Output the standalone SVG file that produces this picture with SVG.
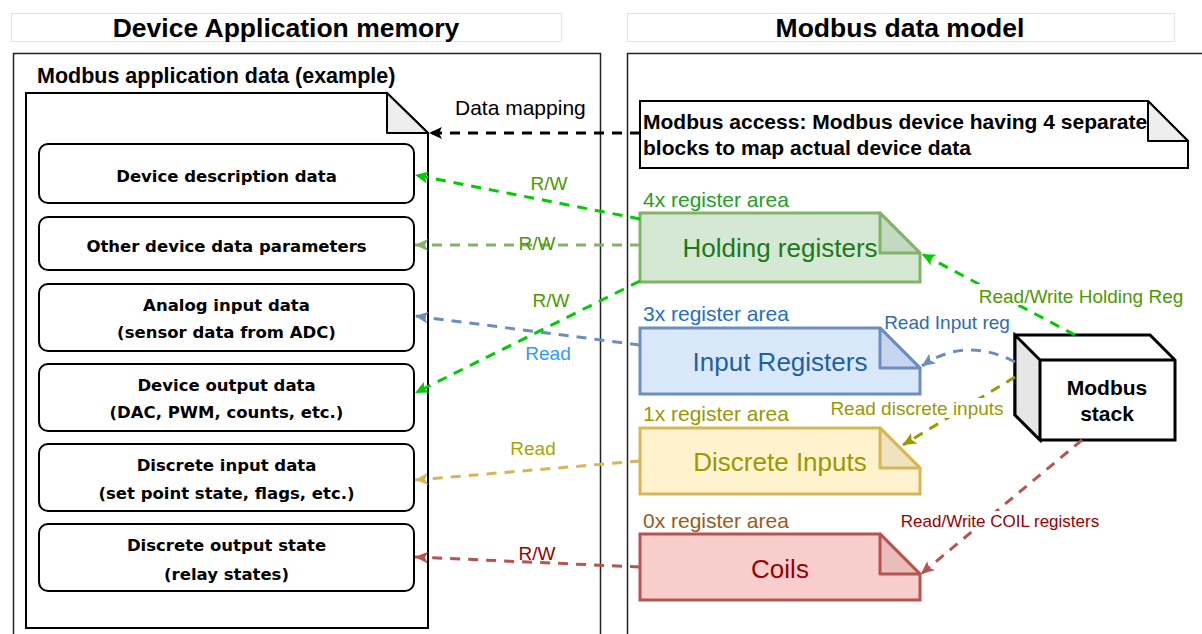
<svg xmlns="http://www.w3.org/2000/svg" width="1202" height="634" viewBox="0 0 1202 634">
<style>
text{font-family:"Liberation Sans",Arial,sans-serif}
.hdr{font-size:26.5px;font-weight:bold;text-anchor:middle;fill:#000}
.box{fill:#fff;stroke:#000;stroke-width:2}
.bt{font-family:"DejaVu Sans",Verdana,sans-serif;font-size:16.5px;font-weight:bold;text-anchor:middle;fill:#000}
.conn{fill:none;stroke-width:3;stroke-dasharray:10 8}
.lbl{font-size:19px;text-anchor:middle}
.area{font-size:21px}
.reg{font-size:26px;text-anchor:middle}
.note{font-size:21px;font-weight:bold}
</style>
<defs>
<marker id="aBlack" markerUnits="userSpaceOnUse" markerWidth="14" markerHeight="12" refX="13" refY="6" orient="auto"><path d="M0,0 L13,6 L0,12 L3,6 Z" fill="#000"/></marker>
<marker id="aGreen" markerUnits="userSpaceOnUse" markerWidth="14" markerHeight="12" refX="13" refY="6" orient="auto"><path d="M0,0 L13,6 L0,12 L3,6 Z" fill="#00cc00"/></marker>
<marker id="aLGreen" markerUnits="userSpaceOnUse" markerWidth="14" markerHeight="12" refX="13" refY="6" orient="auto"><path d="M0,0 L13,6 L0,12 L3,6 Z" fill="#82b366"/></marker>
<marker id="aBlue" markerUnits="userSpaceOnUse" markerWidth="14" markerHeight="12" refX="13" refY="6" orient="auto"><path d="M0,0 L13,6 L0,12 L3,6 Z" fill="#6c8ebf"/></marker>
<marker id="aYellow" markerUnits="userSpaceOnUse" markerWidth="14" markerHeight="12" refX="13" refY="6" orient="auto"><path d="M0,0 L13,6 L0,12 L3,6 Z" fill="#d6b656"/></marker>
<marker id="aOlive" markerUnits="userSpaceOnUse" markerWidth="14" markerHeight="12" refX="13" refY="6" orient="auto"><path d="M0,0 L13,6 L0,12 L3,6 Z" fill="#999900"/></marker>
<marker id="aRed" markerUnits="userSpaceOnUse" markerWidth="14" markerHeight="12" refX="13" refY="6" orient="auto"><path d="M0,0 L13,6 L0,12 L3,6 Z" fill="#b85450"/></marker>
</defs>
<rect width="1202" height="634" fill="#fff"/>

<g id="title-left">
<rect x="11.5" y="13.5" width="550" height="28" fill="#fff" stroke="#e3e3e3"/>
<text class="hdr" x="286" y="37">Device Application memory</text>
</g>
<g id="title-right">
<rect x="627.5" y="13.5" width="547" height="28" fill="#fff" stroke="#e3e3e3"/>
<text class="hdr" x="900" y="37">Modbus data model</text>
</g>

<g id="container-left">
<path d="M13.5,640 V53.5 H600.5 V640" fill="none" stroke="#222" stroke-width="1.5"/>
</g>
<g id="container-right">
<path d="M627.5,640 V53.5 H1205" fill="none" stroke="#222" stroke-width="1.5"/>
</g>

<g id="app-data">
<text x="37" y="83" style="font-size:21.5px;font-weight:bold">Modbus application data (example)</text>
<path d="M26,93 H387 L428,133 V628 H26 Z" fill="#fff" stroke="#000" stroke-width="2"/>
<path d="M387,93 V133 H428 Z" fill="#eeeeee" stroke="#000" stroke-width="2" stroke-linejoin="round"/>
</g>

<g id="box-desc">
<rect class="box" x="39" y="144" width="375" height="59" rx="9"/>
<text class="bt" x="226.5" y="182">Device description data</text>
</g>
<g id="box-other">
<rect class="box" x="39" y="217" width="375" height="53" rx="9"/>
<text class="bt" x="226.5" y="252">Other device data parameters</text>
</g>
<g id="box-analog">
<rect class="box" x="39" y="284" width="375" height="67" rx="9"/>
<text class="bt" x="226.5" y="311">Analog input data</text>
<text class="bt" x="226.5" y="338">(sensor data from ADC)</text>
</g>
<g id="box-output">
<rect class="box" x="39" y="364" width="375" height="67" rx="9"/>
<text class="bt" x="226.5" y="391">Device output data</text>
<text class="bt" x="226.5" y="418">(DAC, PWM, counts, etc.)</text>
</g>
<g id="box-discrete-in">
<rect class="box" x="39" y="444" width="375" height="67" rx="9"/>
<text class="bt" x="226.5" y="471">Discrete input data</text>
<text class="bt" x="226.5" y="499">(set point state, flags, etc.)</text>
</g>
<g id="box-discrete-out">
<rect class="box" x="39" y="524" width="375" height="67" rx="9"/>
<text class="bt" x="226.5" y="551">Discrete output state</text>
<text class="bt" x="226.5" y="580">(relay states)</text>
</g>

<g id="note-access">
<path d="M640,101 H1148 L1188,141 V168 H640 Z" fill="#fff" stroke="#000" stroke-width="2"/>
<path d="M1148,101 V141 H1188 Z" fill="#eeeeee" stroke="#000" stroke-width="2" stroke-linejoin="round"/>
<text class="note" x="643" y="129">Modbus access: Modbus device having 4 separate</text>
<text class="note" x="643" y="155">blocks to map actual device data</text>
</g>

<g id="holding">
<text class="area" x="643" y="207" fill="#22a022">4x register area</text>
<path d="M640,213 H880 L920,253 V282 H640 Z" fill="#d5e8d4" stroke="#82b366" stroke-width="3"/>
<path d="M880,213 V253 H920 Z" fill="#c3d9c1" stroke="#82b366" stroke-width="3" stroke-linejoin="round"/>
<text class="reg" x="780" y="257" fill="#1a7a1a">Holding registers</text>
</g>
<g id="input">
<text class="area" x="643" y="321" fill="#1f6fc5">3x register area</text>
<path d="M640,328 H880 L920,368 V394 H640 Z" fill="#dae8fc" stroke="#6c8ebf" stroke-width="3"/>
<path d="M880,328 V368 H920 Z" fill="#c6d6ee" stroke="#6c8ebf" stroke-width="3" stroke-linejoin="round"/>
<text class="reg" x="780" y="371" fill="#1f5fa8">Input Registers</text>
</g>
<g id="discrete">
<text class="area" x="643" y="421" fill="#999900">1x register area</text>
<path d="M640,428 H880 L920,468 V494 H640 Z" fill="#fff2cc" stroke="#d6b656" stroke-width="3"/>
<path d="M880,428 V468 H920 Z" fill="#efe2bf" stroke="#d6b656" stroke-width="3" stroke-linejoin="round"/>
<text class="reg" x="780" y="471" fill="#999900">Discrete Inputs</text>
</g>
<g id="coils">
<text class="area" x="643" y="528" fill="#a0581a">0x register area</text>
<path d="M640,534 H880 L920,574 V600 H640 Z" fill="#f8cecc" stroke="#b85450" stroke-width="3"/>
<path d="M880,534 V574 H920 Z" fill="#e9bdbb" stroke="#b85450" stroke-width="3" stroke-linejoin="round"/>
<text class="reg" x="780" y="578" fill="#990000">Coils</text>
</g>

<g id="modbus-stack">
<path d="M1015,335 H1150 L1175,360 V440 H1040 L1015,415 Z" fill="#fff" stroke="#000" stroke-width="3" stroke-linejoin="miter"/>
<path d="M1015,335 L1040,360 V440 L1015,415 Z" fill="#e6e6e6" stroke="#000" stroke-width="3"/>
<path d="M1040,360 H1175" fill="none" stroke="#000" stroke-width="3"/>
<text x="1107" y="395" style="font-size:21px;font-weight:bold;text-anchor:middle">Modbus</text>
<text x="1107" y="421" style="font-size:21px;font-weight:bold;text-anchor:middle">stack</text>
</g>

<g id="connectors">
<path class="conn" d="M640,133 H429" stroke="#000" marker-end="url(#aBlack)"/>
<text x="455" y="115" style="font-size:21px" fill="#000">Data mapping</text>

<path class="conn" d="M640,219 L415,175" stroke="#00cc00" marker-end="url(#aGreen)"/>
<text class="lbl" x="549" y="190" fill="#4d9900">R/W</text>

<path class="conn" d="M640,245 H415" stroke="#82b366" marker-end="url(#aLGreen)"/>
<text class="lbl" x="537" y="250" fill="#4d9900">R/W</text>

<path class="conn" d="M640,281 L415,393" stroke="#00cc00" marker-end="url(#aGreen)"/>
<text class="lbl" x="551" y="307" fill="#4d9900">R/W</text>

<path class="conn" d="M640,345 L415,316" stroke="#6c8ebf" marker-end="url(#aBlue)"/>
<text class="lbl" x="548" y="360" fill="#3399ff">Read</text>

<path class="conn" d="M640,461 L415,480" stroke="#d6b656" marker-end="url(#aYellow)"/>
<text class="lbl" x="533" y="455" fill="#a6a600">Read</text>

<path class="conn" d="M640,567 L415,557" stroke="#b85450" marker-end="url(#aRed)"/>
<text class="lbl" x="537" y="560" fill="#990000">R/W</text>

<path class="conn" d="M1075,335 L922,254" stroke="#00cc00" marker-end="url(#aGreen)"/>
<rect x="976" y="284" width="210" height="21" fill="#fff"/>
<text x="1081" y="303" style="font-size:19px;text-anchor:middle" fill="#4d9900">Read/Write Holding Reg</text>

<path class="conn" d="M1015,362 Q965,336 922,366" stroke="#6c8ebf" marker-end="url(#aBlue)"/>
<text x="947" y="329" style="font-size:19px;text-anchor:middle" fill="#2d6bb4">Read Input reg</text>

<path class="conn" d="M1015,377 L903,445" stroke="#999900" marker-end="url(#aOlive)"/>
<rect x="828" y="398" width="180" height="20" fill="#fff"/>
<text x="917" y="415" style="font-size:19px;text-anchor:middle" fill="#999900">Read discrete inputs</text>

<path class="conn" d="M1082,440 L921,574" stroke="#b85450" marker-end="url(#aRed)"/>
<rect x="898" y="511" width="205" height="19" fill="#fff"/>
<text x="1000" y="527" style="font-size:17px;text-anchor:middle" fill="#990000">Read/Write COIL registers</text>
</g>
</svg>
